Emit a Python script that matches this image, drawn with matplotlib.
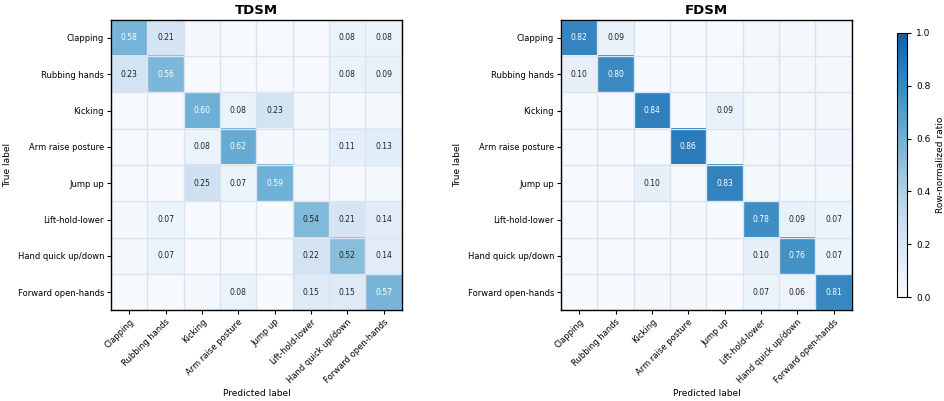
import numpy as np
import matplotlib.pyplot as plt
from matplotlib.colors import ListedColormap

classes = ["Clapping", "Rubbing hands", "Kicking", "Arm raise posture",
           "Jump up", "Lift-hold-lower", "Hand quick up/down", "Forward open-hands"]

# row-normalized confusion matrices (small values estimated from cell shading)
tdsm = np.array([
    [0.58, 0.21, 0.02, 0.01, 0.01, 0.01, 0.08, 0.08],
    [0.23, 0.56, 0.01, 0.01, 0.01, 0.01, 0.08, 0.09],
    [0.01, 0.01, 0.60, 0.08, 0.23, 0.03, 0.01, 0.03],
    [0.01, 0.01, 0.08, 0.62, 0.02, 0.02, 0.11, 0.13],
    [0.01, 0.01, 0.25, 0.07, 0.59, 0.03, 0.01, 0.03],
    [0.02, 0.07, 0.01, 0.01, 0.00, 0.54, 0.21, 0.14],
    [0.03, 0.07, 0.01, 0.01, 0.00, 0.22, 0.52, 0.14],
    [0.01, 0.01, 0.03, 0.08, 0.00, 0.15, 0.15, 0.57],
])

fdsm = np.array([
    [0.82, 0.09, 0.01, 0.01, 0.01, 0.02, 0.03, 0.03],
    [0.10, 0.80, 0.01, 0.01, 0.01, 0.02, 0.02, 0.02],
    [0.01, 0.01, 0.84, 0.01, 0.09, 0.02, 0.02, 0.03],
    [0.01, 0.01, 0.01, 0.86, 0.02, 0.03, 0.03, 0.04],
    [0.01, 0.01, 0.10, 0.01, 0.83, 0.02, 0.02, 0.02],
    [0.01, 0.01, 0.01, 0.02, 0.01, 0.78, 0.09, 0.07],
    [0.01, 0.01, 0.01, 0.01, 0.01, 0.10, 0.76, 0.07],
    [0.01, 0.01, 0.02, 0.03, 0.00, 0.07, 0.06, 0.81],
])

titles = ["TDSM", "FDSM"]
mats = [tdsm, fdsm]

# lighter slice of Blues
cmap = ListedColormap(plt.get_cmap("Blues")(np.linspace(0, 0.82, 256)))

fig = plt.figure(figsize=(9.44, 4.01), dpi=100)
ax_pos = [[0.1176, 0.226, 0.308, 0.725], [0.5943, 0.226, 0.308, 0.725]]

n = len(classes)
for pos, mat, title in zip(ax_pos, mats, titles):
    ax = fig.add_axes(pos)
    im = ax.imshow(mat, cmap=cmap, vmin=0, vmax=1, aspect="auto")
    ax.set_xticks(np.arange(n))
    ax.set_yticks(np.arange(n))
    ax.set_xticklabels(classes, rotation=45, ha="right", rotation_mode="anchor", fontsize=6)
    ax.set_yticklabels(classes, fontsize=6)
    ax.set_xticks(np.arange(-0.5, n, 1), minor=True)
    ax.set_yticks(np.arange(-0.5, n, 1), minor=True)
    ax.grid(which="minor", color="#dce3ee", linewidth=1.0)
    ax.tick_params(which="minor", length=0)
    ax.tick_params(which="major", length=3, width=0.8, pad=2)
    ax.set_xlabel("Predicted label", fontsize=6.5, labelpad=3)
    ax.set_ylabel("True label", fontsize=6.5, labelpad=4)
    ax.set_title(title, fontsize=9.5, fontweight="bold", pad=4)
    for s in ax.spines.values():
        s.set_linewidth(1.0)
    for i in range(n):
        for j in range(n):
            v = mat[i, j]
            if v >= 0.06:
                ax.text(j, i, f"{v:.2f}", ha="center", va="center", fontsize=5.5,
                        color="white" if v > 0.55 else "#222222")

cax = fig.add_axes([0.9505, 0.259, 0.0105, 0.659])
cb = fig.colorbar(im, cax=cax)
cb.set_label("Row-normalized ratio", fontsize=6.5)
cb.ax.tick_params(labelsize=6.5, length=3, width=0.8)
cb.set_ticks([0.0, 0.2, 0.4, 0.6, 0.8, 1.0])

fig.savefig("out.png", dpi=100)
